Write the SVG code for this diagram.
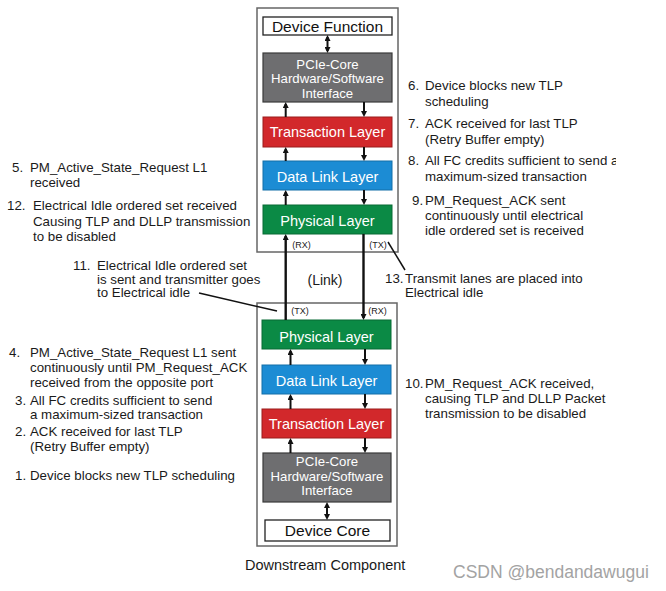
<svg xmlns="http://www.w3.org/2000/svg" width="666" height="591" viewBox="0 0 666 591">
<style>
.t{font-family:"Liberation Sans",Arial,sans-serif;font-size:13.3px;fill:#1a1a1a}
.n{font-family:"Liberation Sans",Arial,sans-serif;font-size:14.5px;fill:#fff;text-anchor:middle}
.p{font-family:"Liberation Sans",Arial,sans-serif;font-size:13.2px;fill:#fff;text-anchor:middle}
.w{font-family:"Liberation Sans",Arial,sans-serif;font-size:15.5px;fill:#111;text-anchor:middle}
.s{font-family:"Liberation Sans",Arial,sans-serif;font-size:9px;fill:#222;text-anchor:middle}
.outer{fill:#fff;stroke:#666;stroke-width:1.5}
.white{fill:#fff;stroke:#222;stroke-width:1.3}
.gray{fill:#6e6e70;stroke:#3a3a3a;stroke-width:1.2}
.red{fill:#d2282b;stroke:#9a1c1c;stroke-width:1}
.blue{fill:#1c8cd4;stroke:#136fa8;stroke-width:1}
.green{fill:#0b8a45;stroke:#086a34;stroke-width:1}
.a{stroke:#111;stroke-width:2;fill:none}
.lk{stroke:#111;stroke-width:2.4;fill:none}
.ld{stroke:#111;stroke-width:1.5;fill:none}
</style>
<defs>
<marker id="ah" viewBox="0 0 6 6" refX="4" refY="3" markerWidth="6" markerHeight="6" markerUnits="userSpaceOnUse" orient="auto-start-reverse"><path d="M0,0 L6,3 L0,6 z" fill="#111"/></marker>
<clipPath id="cut"><rect x="0" y="0" width="616" height="591"/></clipPath>
</defs>
<rect width="666" height="591" fill="#fff"/>

<g id="upstream-box"><rect class="outer" x="257" y="8" width="141" height="244"/></g>
<g id="downstream-box"><rect class="outer" x="257" y="303" width="140" height="243"/></g>

<g id="device-function"><rect class="white" x="263" y="17" width="129" height="18"/><text class="w" x="327.5" y="31.5">Device Function</text></g>
<g id="pcie-core-top"><rect class="gray" x="263" y="53" width="129" height="49"/><text class="p" x="327.5" y="68.7">PCIe-Core</text><text class="p" x="327.5" y="83">Hardware/Software</text><text class="p" x="327.5" y="97.7">Interface</text></g>
<g id="transaction-top"><rect class="red" x="263" y="117" width="129" height="30"/><text class="n" x="327.5" y="137">Transaction Layer</text></g>
<g id="datalink-top"><rect class="blue" x="263" y="161" width="129" height="29"/><text class="n" x="327.5" y="182">Data Link Layer</text></g>
<g id="physical-top"><rect class="green" x="263" y="205" width="129" height="29"/><text class="n" x="327.5" y="226">Physical Layer</text></g>

<g id="physical-bottom"><rect class="green" x="262" y="320" width="129" height="29"/><text class="n" x="326.5" y="342">Physical Layer</text></g>
<g id="datalink-bottom"><rect class="blue" x="262" y="365" width="129" height="29"/><text class="n" x="326.5" y="385.5">Data Link Layer</text></g>
<g id="transaction-bottom"><rect class="red" x="262" y="409" width="129" height="29"/><text class="n" x="326.5" y="428.8">Transaction Layer</text></g>
<g id="pcie-core-bottom"><rect class="gray" x="263" y="453" width="128" height="49"/><text class="p" x="327" y="466.4">PCIe-Core</text><text class="p" x="327" y="481.4">Hardware/Software</text><text class="p" x="327" y="495.4">Interface</text></g>
<g id="device-core"><rect class="white" x="265" y="520" width="125" height="21"/><text class="w" x="327.5" y="536.3">Device Core</text></g>

<g id="connectors">
<line class="a" x1="327.5" y1="37" x2="327.5" y2="51" marker-start="url(#ah)" marker-end="url(#ah)"/>
<line class="a" x1="285.7" y1="117" x2="285.7" y2="104" marker-end="url(#ah)"/>
<line class="a" x1="285.7" y1="161" x2="285.7" y2="149" marker-end="url(#ah)"/>
<line class="a" x1="285.7" y1="205" x2="285.7" y2="192" marker-end="url(#ah)"/>
<line class="a" x1="364" y1="102" x2="364" y2="115" marker-end="url(#ah)"/>
<line class="a" x1="364" y1="147" x2="364" y2="159" marker-end="url(#ah)"/>
<line class="a" x1="364" y1="190" x2="364" y2="203" marker-end="url(#ah)"/>

<line class="lk" x1="285.7" y1="320" x2="285.7" y2="236" marker-end="url(#ah)"/>
<line class="lk" x1="363.5" y1="234" x2="363.5" y2="318" marker-end="url(#ah)"/>

<line class="a" x1="290.5" y1="365" x2="290.5" y2="351" marker-end="url(#ah)"/>
<line class="a" x1="290.5" y1="409" x2="290.5" y2="396" marker-end="url(#ah)"/>
<line class="a" x1="290.5" y1="453" x2="290.5" y2="440" marker-end="url(#ah)"/>
<line class="a" x1="365" y1="349" x2="365" y2="363" marker-end="url(#ah)"/>
<line class="a" x1="365" y1="394" x2="365" y2="407" marker-end="url(#ah)"/>
<line class="a" x1="365" y1="438" x2="365" y2="451" marker-end="url(#ah)"/>
<line class="a" x1="327" y1="504" x2="327" y2="518" marker-start="url(#ah)" marker-end="url(#ah)"/>

<line class="ld" x1="199" y1="293" x2="277" y2="311"/>
<line class="ld" x1="388" y1="242" x2="405" y2="270"/>
</g>

<g id="port-labels">
<text class="s" x="301.5" y="247.5">(RX)</text>
<text class="s" x="378" y="247.5">(TX)</text>
<text class="s" x="300" y="313.5">(TX)</text>
<text class="s" x="377.5" y="313.5">(RX)</text>
<text x="325" y="285" style="font-family:'Liberation Sans',Arial,sans-serif;font-size:14px;fill:#1a1a1a;text-anchor:middle">(Link)</text>
</g>

<g id="notes-left">
<text class="t" x="12" y="171.5">5.</text><text class="t" x="30" y="171.5">PM_Active_State_Request L1</text><text class="t" x="30" y="186.5">received</text>
<text class="t" x="7" y="209.5">12.</text><text class="t" x="33" y="209.5">Electrical Idle ordered set received</text><text class="t" x="33" y="225.5">Causing TLP and DLLP transmission</text><text class="t" x="33" y="240.5">to be disabled</text>
<text class="t" x="73" y="269.5">11.</text><text class="t" x="97" y="269.5">Electrical Idle ordered set</text><text class="t" x="97" y="283.5">is sent and transmitter goes</text><text class="t" x="97" y="297">to Electrical idle</text>
<text class="t" x="9" y="356.5">4.</text><text class="t" x="30" y="356.5">PM_Active_State_Request L1 sent</text><text class="t" x="30" y="371.5">continuously until PM_Request_ACK</text><text class="t" x="30" y="386.5">received from the opposite port</text>
<text class="t" x="15" y="404.5">3.</text><text class="t" x="30" y="404.5">All FC credits sufficient to send</text><text class="t" x="30" y="418.5">a maximum-sized transaction</text>
<text class="t" x="15" y="436">2.</text><text class="t" x="30" y="436">ACK received for last TLP</text><text class="t" x="30" y="451">(Retry Buffer empty)</text>
<text class="t" x="15" y="479.5">1.</text><text class="t" x="30" y="479.5">Device blocks new TLP scheduling</text>
</g>

<g id="notes-right">
<text class="t" x="408" y="89.5">6.</text><text class="t" x="425" y="89.5">Device blocks new TLP</text><text class="t" x="425" y="106">scheduling</text>
<text class="t" x="408" y="127.5">7.</text><text class="t" x="425" y="127.5">ACK received for last TLP</text><text class="t" x="425" y="143.5">(Retry Buffer empty)</text>
<text class="t" x="408" y="164.5">8.</text><text class="t" x="425" y="164.5" clip-path="url(#cut)">All FC credits sufficient to send a</text><text class="t" x="425" y="180.5">maximum-sized transaction</text>
<text class="t" x="412" y="204.5">9.</text><text class="t" x="425" y="204.5">PM_Request_ACK sent</text><text class="t" x="425" y="220">continuously until electrical</text><text class="t" x="425" y="234.5">idle ordered set is received</text>
<text class="t" x="385" y="282.5">13.</text><text class="t" x="405" y="282.5">Transmit lanes are placed into</text><text class="t" x="405" y="297">Electrical idle</text>
<text class="t" x="405" y="387.5">10.</text><text class="t" x="425" y="387.5">PM_Request_ACK received,</text><text class="t" x="425" y="402.5">causing TLP and DLLP Packet</text><text class="t" x="425" y="417.5">transmission to be disabled</text>
</g>

<g id="captions">
<text x="245" y="570" style="font-family:'Liberation Sans',Arial,sans-serif;font-size:14.5px;fill:#1a1a1a">Downstream Component</text>
<text x="453" y="578" style="font-family:'Liberation Sans',Arial,sans-serif;font-size:17.5px;fill:#a3a3a3">CSDN @bendandawugui</text>
</g>
</svg>
